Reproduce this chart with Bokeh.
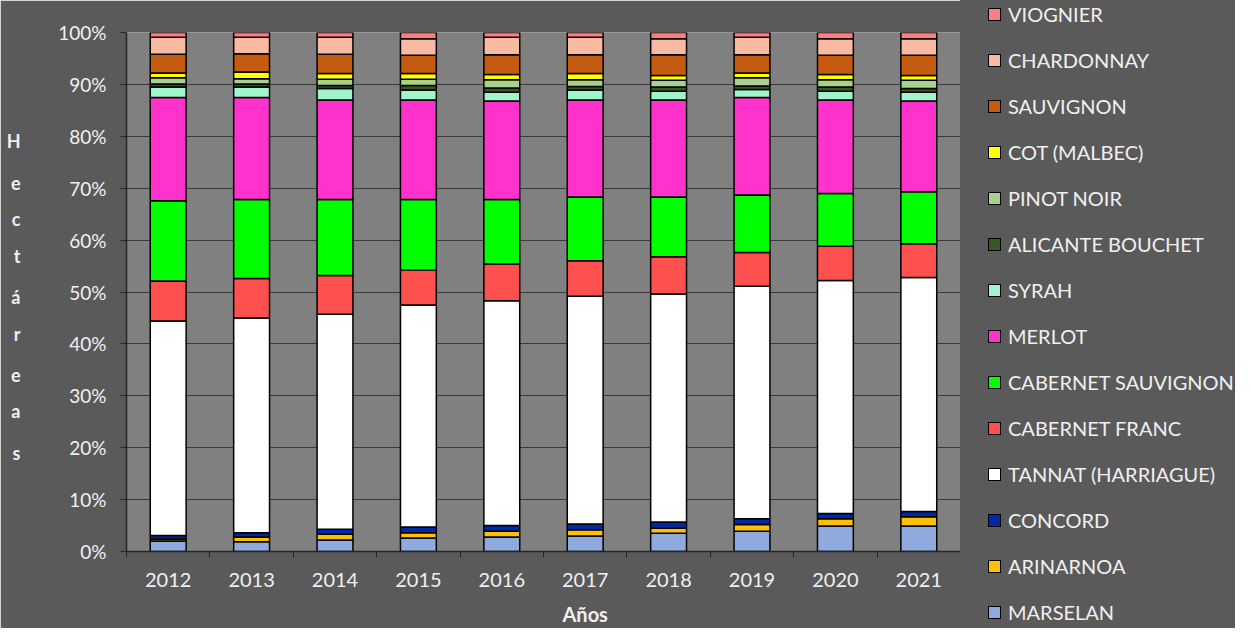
from bokeh.plotting import figure
from bokeh.layouts import row
from bokeh.models import ColumnDataSource, Range1d, FixedTicker, LinearAxis, Div
from bokeh.embed import file_html
from bokeh.resources import INLINE

years = ["2012", "2013", "2014", "2015", "2016", "2017", "2018", "2019", "2020", "2021"]

# shares of hectares per year (%), stacked bottom -> top
marselan   = [2.0, 1.9, 2.2, 2.6, 2.8, 3.0, 3.5, 3.9, 4.9, 4.9]
arinarnoa  = [0.4, 0.9, 1.1, 1.0, 1.1, 1.2, 1.0, 1.3, 1.4, 1.8]
concord    = [0.7, 0.8, 1.0, 1.1, 1.1, 1.1, 1.2, 1.1, 1.0, 1.0]
tannat     = [41.3, 41.4, 41.4, 42.8, 43.3, 43.9, 43.9, 44.8, 44.9, 45.1]
cab_franc  = [7.7, 7.6, 7.5, 6.7, 7.1, 6.8, 7.2, 6.5, 6.6, 6.5]
cab_sauv   = [15.5, 15.2, 14.6, 13.6, 12.4, 12.3, 11.5, 11.1, 10.2, 10.0]
merlot     = [19.9, 19.7, 19.2, 19.2, 19.0, 18.7, 18.7, 18.8, 18.0, 17.5]
syrah      = [2.0, 2.0, 2.2, 1.9, 1.7, 1.9, 1.7, 1.5, 1.7, 1.7]
alicante   = [0.6, 0.6, 0.6, 0.9, 0.8, 0.7, 0.8, 0.7, 0.8, 0.7]
pinot_noir = [1.2, 1.0, 1.2, 1.2, 1.6, 1.3, 1.3, 1.6, 1.4, 1.6]
cot        = [0.9, 1.3, 1.1, 1.1, 1.0, 1.2, 0.9, 0.9, 1.0, 0.9]
sauvignon  = [3.6, 3.5, 3.7, 3.5, 3.8, 3.6, 4.0, 3.5, 3.7, 3.9]
chardonnay = [3.3, 3.2, 3.3, 3.2, 3.4, 3.4, 3.1, 3.4, 3.2, 3.2]
viognier   = [0.9, 0.9, 0.9, 1.2, 0.9, 0.9, 1.2, 0.9, 1.2, 1.2]

varieties = ["MARSELAN", "ARINARNOA", "CONCORD", "TANNAT (HARRIAGUE)", "CABERNET FRANC",
             "CABERNET SAUVIGNON", "MERLOT", "SYRAH", "ALICANTE BOUCHET", "PINOT NOIR",
             "COT (MALBEC)", "SAUVIGNON", "CHARDONNAY", "VIOGNIER"]
series = [marselan, arinarnoa, concord, tannat, cab_franc, cab_sauv, merlot, syrah,
          alicante, pinot_noir, cot, sauvignon, chardonnay, viognier]
colors = ["#8FAADC", "#FFC000", "#0029A8", "#FFFFFF", "#FF5050", "#00FF00", "#FF33CC",
          "#A0F5CC", "#385723", "#A9D18E", "#FFFF00", "#C55A11", "#F8BBA2", "#FF7C80"]

y_ticks = [0, 10, 20, 30, 40, 50, 60, 70, 80, 90, 100]
y_title_letters = ["H", "e", "c", "t", "á", "r", "e", "a", "s"]
y_title_pos = [79, 71, 64, 57, 49, 42, 34, 27, 19]
x_title = "Años"

FONT = "Lato"
TXT = "#F0F0F0"
BG = "#5A5A5A"
AXC = "#262626"

data = {"x": list(range(len(years)))}
keys = []
for i, s in enumerate(series):
    k = "s%d" % i
    keys.append(k)
    data[k] = s
src = ColumnDataSource(data)

p = figure(width=960, height=628, output_backend="svg", toolbar_location=None,
           x_range=Range1d(-0.5, len(years) - 0.5), y_range=Range1d(0, 100))
p.min_border_left = 126
p.min_border_right = 0
p.min_border_top = 32
p.min_border_bottom = 75
p.background_fill_color = "#808080"
p.border_fill_color = BG
p.outline_line_color = None

p.vbar_stack(keys, x="x", width=0.43, source=src, fill_color=colors,
             line_color="black", line_width=1.5)

# main axes
xa = p.xaxis[0]
xa.ticker = FixedTicker(ticks=list(range(len(years))),
                        minor_ticks=[i - 0.5 for i in range(len(years) + 1)])
xa.major_label_overrides = {i: y for i, y in enumerate(years)}
xa.major_tick_out = 0
xa.major_tick_in = 0
xa.minor_tick_out = 6
xa.minor_tick_in = 0
xa.minor_tick_line_color = AXC
xa.axis_line_color = AXC
xa.axis_line_width = 1.5
xa.major_label_standoff = 15
xa.major_label_text_font = FONT
xa.major_label_text_font_size = "20px"
xa.major_label_text_color = TXT

ya = p.yaxis[0]
ya.ticker = FixedTicker(ticks=y_ticks, minor_ticks=[])
ya.major_label_overrides = {t: "%d%%" % t for t in y_ticks}
ya.major_tick_out = 6
ya.major_tick_in = 0
ya.major_tick_line_color = AXC
ya.axis_line_color = AXC
ya.axis_line_width = 1.5
ya.major_label_standoff = 14
ya.major_label_text_font = FONT
ya.major_label_text_font_size = "19px"
ya.major_label_text_color = TXT

p.xgrid.grid_line_color = None
p.ygrid.grid_line_color = "#3A3A3A"
p.ygrid.grid_line_width = 1.2

# vertical, letter-stacked y title as an extra axis
ytitle = LinearAxis(ticker=FixedTicker(ticks=y_title_pos, minor_ticks=[]),
                    major_label_overrides={t: c for t, c in zip(y_title_pos, y_title_letters)},
                    axis_line_color=None, major_tick_line_color=None,
                    minor_tick_line_color=None, major_label_standoff=29,
                    major_label_text_font=FONT, major_label_text_font_style="bold",
                    major_label_text_font_size="18px", major_label_text_color=TXT)
p.add_layout(ytitle, "left")

# x title as an extra axis, centred where the reference has it
xtitle = LinearAxis(ticker=FixedTicker(ticks=[5], minor_ticks=[]),
                    major_label_overrides={5: x_title},
                    axis_line_color=None, major_tick_line_color=None,
                    minor_tick_line_color=None, major_label_standoff=6,
                    major_label_text_font=FONT, major_label_text_font_style="bold",
                    major_label_text_font_size="20px", major_label_text_color=TXT)
p.add_layout(xtitle, "below")

# legend (top entry = top of the stack), built from the same names and colours
parts = []
order = list(reversed(range(len(varieties))))
for row_i, k in enumerate(order):
    cy = 14 + row_i * 46
    parts.append(
        '<div style="position:absolute;left:28px;top:%.1fpx;width:13px;height:13px;'
        'box-sizing:border-box;border:1.5px solid #000;background:%s;"></div>'
        % (cy - 6.5, colors[k]))
    parts.append(
        '<div style="position:absolute;left:48px;top:%.1fpx;height:20px;line-height:20px;'
        'white-space:nowrap;font-family:Lato;font-size:20px;color:%s;">%s</div>'
        % (cy - 10, TXT, varieties[k]))
legend_html = ('<div style="position:relative;width:275px;height:628px;background:%s;">%s</div>'
               % (BG, "".join(parts)))
legend_div = Div(text=legend_html, width=275, height=628, margin=0,
                 styles={"background-color": BG})

layout = row(p, legend_div, spacing=0)

html = file_html(layout, INLINE)
html = html.replace("<body>", '<body style="background-color:%s;">' % BG, 1)
open("out.html", "w").write(html)
